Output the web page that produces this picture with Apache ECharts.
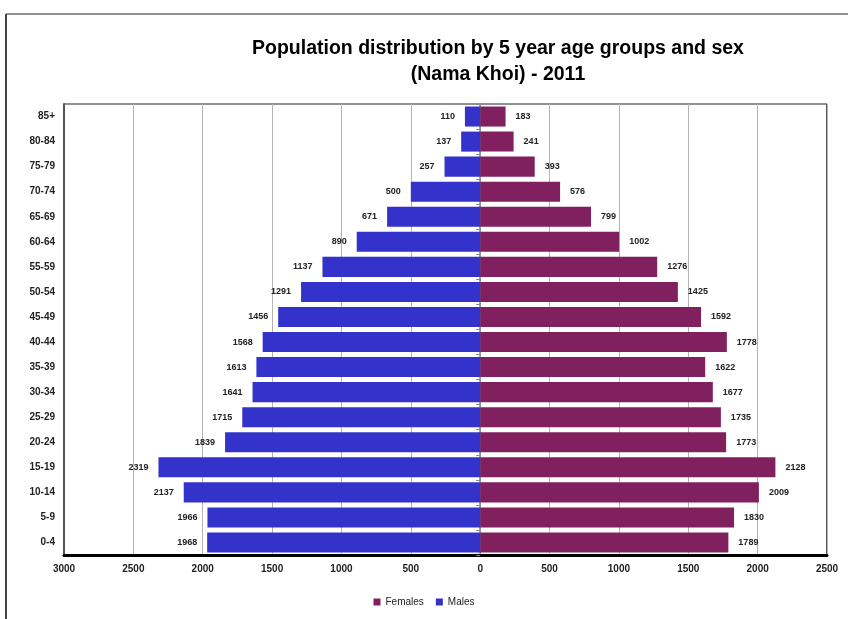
<!DOCTYPE html>
<html>
<head>
<meta charset="utf-8">
<script src="https://cdn.jsdelivr.net/npm/echarts@6/dist/echarts.min.js"></script>
<style>
  html, body { margin: 0; padding: 0; background: #fff; }
  #chart { width: 848px; height: 619px; }
</style>
</head>
<body>
<div id="chart"></div>
<script>
// Age groups, youngest at the bottom
const ageGroups = ['0-4', '5-9', '10-14', '15-19', '20-24', '25-29', '30-34', '35-39',
  '40-44', '45-49', '50-54', '55-59', '60-64', '65-69', '70-74', '75-79', '80-84', '85+'];
const males = [1968, 1966, 2137, 2319, 1839, 1715, 1641, 1613, 1568, 1456, 1291, 1137,
  890, 671, 500, 257, 137, 110];
const females = [1789, 1830, 2009, 2128, 1773, 1735, 1677, 1622, 1778, 1592, 1425, 1276,
  1002, 799, 576, 393, 241, 183];

const titleLines = ['Population distribution by 5 year age groups and sex', '(Nama Khoi) - 2011'];
const axisMin = -3000, axisMax = 2500, axisStep = 500;

const FONT = '"Liberation Sans", Arial, sans-serif';
const MALE_COLOR = '#3333CC';
const FEMALE_COLOR = '#80205F';

const chart = echarts.init(document.getElementById('chart'));
chart.setOption({
  animation: false,
  backgroundColor: '#fff',
  title: {
    text: titleLines.join('\n'),
    left: 493, top: 31, textAlign: 'center',
    textStyle: { fontFamily: FONT, fontSize: 19.5, fontWeight: 'bold', color: '#000', lineHeight: 26 }
  },
  legend: {
    data: ['Females', 'Males'],
    left: 'center', top: 592,
    itemWidth: 7, itemHeight: 7, itemGap: 12,
    icon: 'rect',
    textStyle: { fontFamily: FONT, fontSize: 10, color: '#222' }
  },
  grid: {
    left: 64, right: 21, top: 104, bottom: 64,
    show: true, borderColor: '#222', borderWidth: 1
  },
  xAxis: {
    type: 'value', min: axisMin, max: axisMax, interval: axisStep,
    axisLine: { show: true, onZero: false, lineStyle: { color: '#000', width: 3 } },
    axisTick: { show: false },
    splitLine: { show: true, lineStyle: { color: '#b4b4b4', width: 1 } },
    axisLabel: {
      formatter: v => String(Math.abs(v)),
      fontFamily: FONT, fontSize: 10, fontWeight: 'bold', color: '#222', margin: 9
    }
  },
  yAxis: [
    {
      type: 'category', data: ageGroups,
      axisLine: { show: true, onZero: true, lineStyle: { color: '#888', width: 1.5 } },
      axisTick: { show: true, length: 4, lineStyle: { color: '#888' } },
      axisLabel: { show: false }
    },
    {
      type: 'category', data: ageGroups, position: 'left',
      axisLine: { show: true, onZero: false, lineStyle: { color: '#555', width: 2 } },
      axisTick: { show: false },
      axisLabel: { fontFamily: FONT, fontSize: 10, fontWeight: 'bold', color: '#222', margin: 9 }
    }
  ],
  series: [
    {
      name: 'Females', type: 'bar', yAxisIndex: 0,
      data: females,
      barCategoryGap: '20%', barGap: '-100%',
      itemStyle: { color: FEMALE_COLOR },
      label: {
        show: true, position: 'right', distance: 10,
        fontFamily: FONT, fontSize: 9, fontWeight: 'bold', color: '#222'
      }
    },
    {
      name: 'Males', type: 'bar', yAxisIndex: 0,
      data: males.map(v => -v),
      barCategoryGap: '20%', barGap: '-100%',
      itemStyle: { color: MALE_COLOR },
      label: {
        show: true, position: 'left', distance: 10,
        formatter: p => String(Math.abs(p.value)),
        fontFamily: FONT, fontSize: 9, fontWeight: 'bold', color: '#222'
      }
    }
  ],
  graphic: [
    // outer chart frame
    { type: 'line', shape: { x1: 6, y1: 14, x2: 848, y2: 14 }, style: { stroke: '#222', lineWidth: 1 } },
    { type: 'line', shape: { x1: 6, y1: 14, x2: 6, y2: 619 }, style: { stroke: '#444', lineWidth: 2 } },
    // right edge of the plot area
    { type: 'line', shape: { x1: 827, y1: 104, x2: 827, y2: 555 }, style: { stroke: '#555', lineWidth: 2 } }
  ]
});
</script>
</body>
</html>
